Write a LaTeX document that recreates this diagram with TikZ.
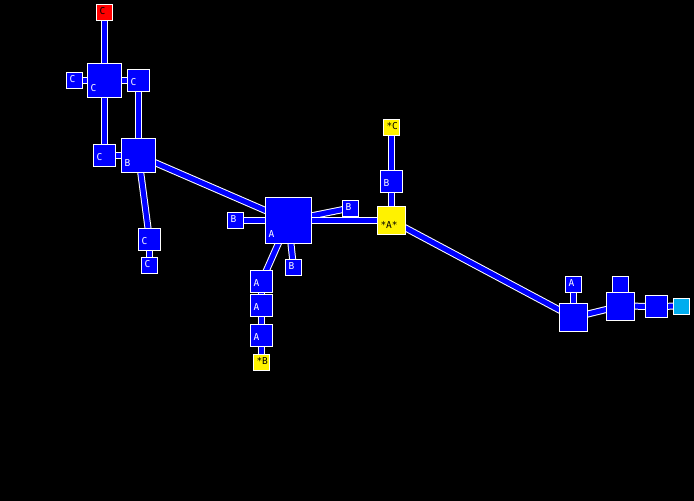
\documentclass[tikz,border=0pt]{standalone}
\usepackage{fontspec}
\newfontfamily\pixfont{DejaVu Sans Mono}
\usetikzlibrary{positioning}
\pgfdeclarelayer{background}
\pgfdeclarelayer{links}
\pgfsetlayers{background,links,main}
\tikzstyle{every picture}+=[x=1pt,y=-1pt]
\tikzstyle{every picture}+=[join=miter]
\tikzstyle{every picture}+=[cap=butt]
\tikzstyle{box}=[draw=white, fill=blue, line width=1pt]
\tikzstyle{box}+=[rectangle, inner sep=0pt, outer sep=0pt]
\tikzstyle{sz}=[minimum size=#1pt]
\tikzstyle{lbl}=[anchor=base west, inner sep=0pt, outer sep=0pt]
\tikzstyle{lbl}+=[xshift=3pt, yshift=6pt, text=white]
\tikzstyle{lbl}+=[font=\pixfont\fontsize{9.5}{10}\selectfont]
\tikzstyle{tag}=[label={[lbl]south west:#1}]
\tikzstyle{tagk}=[label={[lbl,text=black]south west:#1}]
\tikzstyle{link}=[draw=white, line width=1pt, double=blue, double distance=5pt]
\begin{document}
\begin{tikzpicture}
\useasboundingbox (0,0) rectangle (694,501);
\begin{pgfonlayer}{background}
\fill[black] (0,0) rectangle (694,501);
\end{pgfonlayer}

\node[box,sz=16,fill=red,tagk=C] (cRed) at (104.5,12.5) {};
\node[box,sz=34,tag=C] (cHub) at (104.5,80.5) {};
\node[box,sz=16,tag=C] (cLeft) at (74.5,80.5) {};
\node[box,sz=22,tag=C] (cRight) at (138.5,80.5) {};
\node[box,sz=22,tag=C] (cLow) at (104.5,155.5) {};
\node[box,sz=34,tag=B] (bHub) at (138.5,155.5) {};
\node[box,sz=22,tag=C] (cDown) at (149.5,239.5) {};
\node[box,sz=16,tag=C] (cTip) at (149.5,265) {};

\node[box,sz=46,tag=A] (aHub) at (288.5,220.5) {};
\node[box,sz=16,tag=B] (bLeft) at (235.5,220.5) {};
\node[box,sz=16,tag=B] (bUp) at (350.5,208) {};
\node[box,sz=16,tag=B] (bDown) at (293.5,267.5) {};
\node[box,sz=28,fill=yellow,tagk=*A*] (aStar) at (391.5,220.5) {};
\node[box,sz=22,tag=B] (bStar) at (391.5,181.5) {};
\node[box,sz=16,fill=yellow,tagk=*C] (cStar) at (391.5,127.5) {};
\node[box,sz=22,tag=A] (a1) at (261.5,281.5) {};
\node[box,sz=22,tag=A] (a2) at (261.5,305.5) {};
\node[box,sz=22,tag=A] (a3) at (261.5,335.5) {};
\node[box,sz=16,fill=yellow,tagk=*B] (bStarB) at (261.5,362) {};

\node[box,sz=16,tag=A] (aSmall) at (573.5,284) {};
\node[box,sz=28] (r1) at (573.5,317.5) {};
\node[box,sz=16] (rTop) at (620.5,284) {};
\node[box,sz=28] (r2) at (620.5,306) {};
\node[box,sz=22] (r3) at (656.5,306.5) {};
\node[box,sz=16,fill=cyan] (rEnd) at (681.5,306) {};

\begin{pgfonlayer}{links}
\path[every edge/.style={link}]
  (cRed.center) edge (cHub.center)
  (cHub.center) edge (cLeft.center)
  (cHub.center) edge (cRight.center)
  (cHub.center) edge (cLow.center)
  (cRight.center) edge (bHub.center)
  (cLow.center) edge (bHub.center)
  (bHub.center) edge (cDown.center)
  (cDown.center) edge (cTip.center)
  (bHub.center) edge (aHub.center)
  (aHub.center) edge (bLeft.center)
  (aHub.center) edge (bUp.center)
  (aHub.center) edge (bDown.center)
  (aHub.center) edge (aStar.center)
  (aHub.center) edge (a1.center)
  (a1.center) edge (a2.center)
  (a2.center) edge (a3.center)
  (a3.center) edge (bStarB.center)
  (aStar.center) edge (bStar.center)
  (bStar.center) edge (cStar.center)
  (aStar.center) edge (r1.center)
  (aSmall.center) edge (r1.center)
  (r1.center) edge (r2.center)
  (rTop.center) edge (r2.center)
  (r2.center) edge (r3.center)
  (r3.center) edge (rEnd.center)
  ;
\end{pgfonlayer}
\end{tikzpicture}
\end{document}
